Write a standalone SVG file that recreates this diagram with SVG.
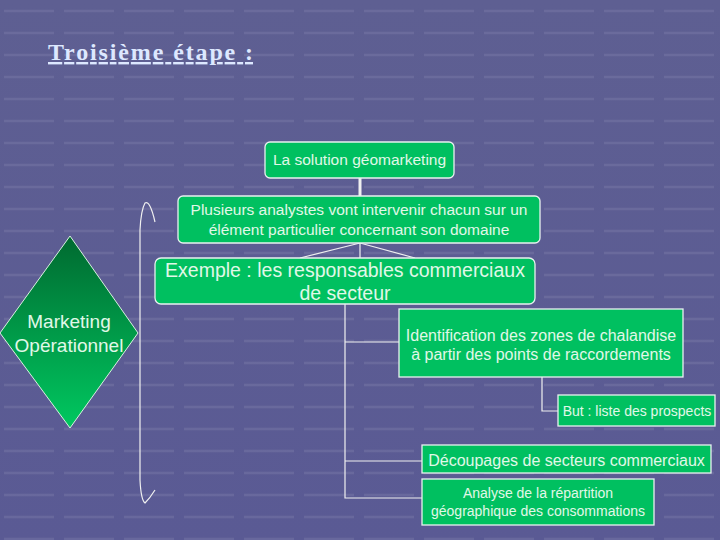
<svg xmlns="http://www.w3.org/2000/svg" width="720" height="540" viewBox="0 0 720 540">
<defs>
<linearGradient id="bg" x1="0" y1="0" x2="0" y2="1"><stop offset="0" stop-color="#5e5f92"/><stop offset="1" stop-color="#5a5a94"/></linearGradient>
<pattern id="grid" width="60" height="22" patternUnits="userSpaceOnUse"><line x1="4" y1="11" x2="54" y2="11" stroke="#7a7aa8" stroke-width="2.5"/></pattern>
<linearGradient id="dg" x1="0" y1="0" x2="0" y2="1"><stop offset="0" stop-color="#006a30"/><stop offset="1" stop-color="#00c860"/></linearGradient>
<style>
.box{fill:#00c060;stroke:#e8f0f0;stroke-width:1.3}
.t{font-family:"Liberation Sans",Arial,sans-serif;fill:#e0f8e8;text-anchor:middle}
.c{stroke:#f0f0f0;stroke-width:1.2;fill:none}
</style>
</defs>
<rect width="720" height="540" fill="url(#bg)"/>
<rect width="720" height="540" fill="url(#grid)" opacity="0.45"/>
<text x="48" y="60" font-family="Liberation Serif,serif" font-size="24" font-weight="bold" fill="#dde8ff" text-decoration="underline" textLength="205" lengthAdjust="spacing">Troisième étape :</text>
<g id="connectors">
<line x1="360" y1="178" x2="360" y2="196" stroke="#f0f0f0" stroke-width="3"/>
<path class="c" d="M300,258 L360,243 L415,258 M360,243 V258"/>
<path class="c" d="M345,304 V498 H422 M345,342 H399 M345,461 H422 M542,377 V411 H558"/>
<path class="c" d="M155,222 Q150,200 145,203 Q141,210 140,230 V480 Q141,500 145,503 Q150,498 155,490"/>
</g>
<g id="diamond"><polygon points="70,236 138,333 70,428 0,333" fill="url(#dg)" stroke="#d8f0e0" stroke-width="1"/>
<text class="t" x="69" y="328" font-size="19">Marketing</text><text class="t" x="69" y="352" font-size="19">Opérationnel</text></g>
<g id="n1"><rect class="box" x="265" y="142" width="189" height="36" rx="5"/><text class="t" x="359.5" y="165" font-size="15.5">La solution géomarketing</text></g>
<g id="n2"><rect class="box" x="178" y="196" width="362" height="47" rx="5"/><text class="t" x="359" y="215" font-size="15.5">Plusieurs analystes vont intervenir chacun sur un</text><text class="t" x="359" y="235" font-size="15.5">élément particulier concernant son domaine</text></g>
<g id="n3"><rect class="box" x="155" y="258" width="380" height="46" rx="6"/><text class="t" x="345" y="277" font-size="19.5">Exemple : les responsables commerciaux</text><text class="t" x="345" y="300" font-size="19.5">de secteur</text></g>
<g id="n4"><rect class="box" x="399" y="309" width="284" height="68"/><text class="t" x="541" y="341" font-size="16">Identification des zones de chalandise</text><text class="t" x="541" y="360" font-size="16">à partir des points de raccordements</text></g>
<g id="n5"><rect class="box" x="558" y="395" width="157" height="31"/><text class="t" x="637" y="416" font-size="14">But : liste des prospects</text></g>
<g id="n6"><rect class="box" x="422" y="445" width="289" height="28"/><text class="t" x="566.5" y="466" font-size="16">Découpages de secteurs commerciaux</text></g>
<g id="n7"><rect class="box" x="422" y="479" width="232" height="46"/><text class="t" x="538" y="498" font-size="14">Analyse de la répartition</text><text class="t" x="538" y="516" font-size="14">géographique des consommations</text></g>
</svg>
